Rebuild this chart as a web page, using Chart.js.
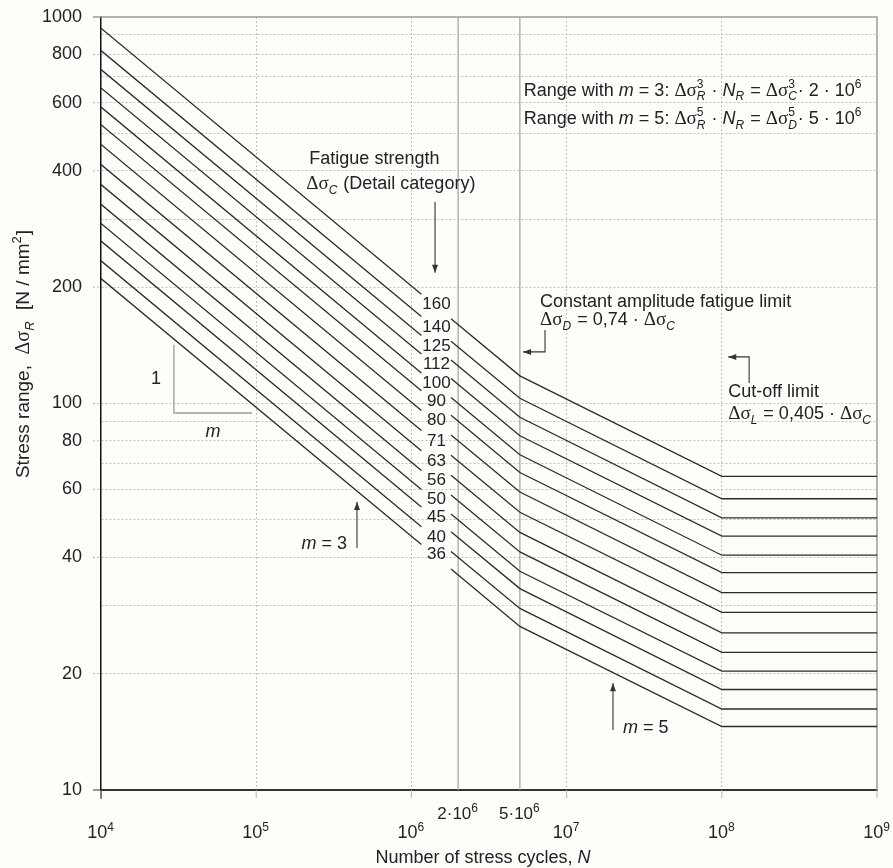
<!DOCTYPE html>
<html>
<head>
<meta charset="utf-8">
<script src="https://cdn.jsdelivr.net/npm/chart.js@4.4.1/dist/chart.umd.min.js"></script>
<style>
html, body { margin: 0; padding: 0; background: #fdfdfa; }
canvas { display: block; }
</style>
</head>
<body>
<canvas id="snChart" width="893" height="868"></canvas>
<script>
// detail categories (fatigue strength at 2e6 cycles)
const categories = [160, 140, 125, 112, 100, 90, 80, 71, 63, 56, 50, 45, 40, 36];

// cycle counts where each curve starts, breaks for its label, bends and ends
const nStart = 1e4, nLeftEnd = 1.16e6, nLabel = 1.45e6, nRightStart = 1.8e6, nD = 5e6, nL = 1e8, nEnd = 1e9;

// stress range of each curve at those cycle counts
const valuesAtStart      = [935.7, 818.7, 731.0, 655.0, 584.8, 526.3, 467.8, 415.2, 368.4, 327.5, 292.4, 263.2, 233.9, 210.5];
const valuesAtLeftEnd    = [191.8, 167.8, 149.9, 134.3, 119.9, 107.9, 95.9, 85.1, 75.5, 67.1, 59.9, 54.0, 48.0, 43.2];
const valuesAtRightStart = [165.7, 145.0, 129.5, 116.0, 103.6, 93.2, 82.9, 73.5, 65.2, 58.0, 51.8, 46.6, 41.4, 37.3];
const valuesAtD          = [117.9, 103.2, 92.1, 82.5, 73.7, 66.3, 59.0, 52.3, 46.4, 41.3, 36.8, 33.2, 29.5, 26.5];
const valuesAtL          = [64.8, 56.7, 50.6, 45.4, 40.5, 36.5, 32.4, 28.8, 25.5, 22.7, 20.3, 18.2, 16.2, 14.6];

// axis ticks
const xTicks = [1e4, 1e5, 1e6, 1e7, 1e8, 1e9];
const xTickExp = [4, 5, 6, 7, 8, 9];
const xExtraTicks = [2e6, 5e6];
const xExtraLabels = ['2', '5'];
const yGridValues = [10, 20, 30, 40, 50, 60, 70, 80, 90, 100, 200, 300, 400, 500, 600, 700, 800, 900, 1000];
const yTickLabels = [10, 20, 40, 60, 80, 100, 200, 400, 600, 800, 1000];

const FONT = '"Liberation Sans", Arial, sans-serif';
const GREEK = '"Liberation Serif", "DejaVu Serif", serif';
const INK = '#222';

const datasets = categories.map((c, i) => ({
    label: String(c),
    data: [
        { x: nStart, y: valuesAtStart[i] },
        { x: nLeftEnd, y: valuesAtLeftEnd[i] },
        { x: nLabel, y: null },
        { x: nRightStart, y: valuesAtRightStart[i] },
        { x: nD, y: valuesAtD[i] },
        { x: nL, y: valuesAtL[i] },
        { x: nEnd, y: valuesAtL[i] }
    ],
    borderColor: '#2b2b2b',
    borderWidth: 1.3,
    pointRadius: 0,
    tension: 0,
    spanGaps: false
}));

// rich text: parts are [text, kind]; kinds n, i, g, sub, sup, ss (stacked [sup, sub])
function fontOf(kind, size) {
    const small = Math.round(size * 0.68);
    if (kind === 'i') return 'italic ' + size + 'px ' + FONT;
    if (kind === 'g') return (size + 1) + 'px ' + GREEK;
    if (kind === 'sub') return 'italic ' + small + 'px ' + FONT;
    if (kind === 'sup') return small + 'px ' + FONT;
    return size + 'px ' + FONT;
}
function partWidth(ctx, p, size) {
    if (p[1] === 'ss') {
        ctx.font = fontOf('sup', size);
        const a = ctx.measureText(p[0][0]).width;
        ctx.font = fontOf('sub', size);
        const b = ctx.measureText(p[0][1]).width;
        return Math.max(a, b) + 1;
    }
    ctx.font = fontOf(p[1], size);
    return ctx.measureText(p[0]).width + (p[1] === 'sub' || p[1] === 'sup' ? 1 : 0);
}
function rich(ctx, parts, x, y, align, size) {
    let total = 0;
    parts.forEach(p => total += partWidth(ctx, p, size));
    let cx = align === 'center' ? x - total / 2 : align === 'right' ? x - total : x;
    const base = y + size * 0.36;
    ctx.textAlign = 'left';
    ctx.textBaseline = 'alphabetic';
    ctx.fillStyle = INK;
    parts.forEach(p => {
        const w = partWidth(ctx, p, size);
        if (p[1] === 'ss') {
            ctx.font = fontOf('sup', size);
            ctx.fillText(p[0][0], cx, base - size * 0.42);
            ctx.font = fontOf('sub', size);
            ctx.fillText(p[0][1], cx, base + size * 0.26);
        } else {
            ctx.font = fontOf(p[1], size);
            let dy = 0;
            if (p[1] === 'sub') dy = size * 0.26;
            if (p[1] === 'sup') dy = -size * 0.42;
            ctx.fillText(p[0], cx, base + dy);
        }
        cx += w;
    });
}
function arrow(ctx, pts) {
    ctx.beginPath();
    ctx.moveTo(pts[0][0], pts[0][1]);
    for (let k = 1; k < pts.length; k++) ctx.lineTo(pts[k][0], pts[k][1]);
    ctx.stroke();
    const [x1, y1] = pts[pts.length - 2], [x2, y2] = pts[pts.length - 1];
    const ang = Math.atan2(y2 - y1, x2 - x1), len = 8, half = 3;
    ctx.beginPath();
    ctx.moveTo(x2, y2);
    ctx.lineTo(x2 - len * Math.cos(ang) + half * Math.sin(ang), y2 - len * Math.sin(ang) - half * Math.cos(ang));
    ctx.lineTo(x2 - len * Math.cos(ang) - half * Math.sin(ang), y2 - len * Math.sin(ang) + half * Math.cos(ang));
    ctx.closePath();
    ctx.fill();
}

const decor = {
    id: 'decor',
    beforeDraw(chart) {
        const { ctx, width, height } = chart;
        ctx.save();
        ctx.fillStyle = '#fdfdfa';
        ctx.fillRect(0, 0, width, height);
        ctx.restore();
    },
    beforeDatasetsDraw(chart) {
        const { ctx, chartArea: a, scales: { x, y } } = chart;
        ctx.save();
        ctx.strokeStyle = '#9a9a9a';
        ctx.lineWidth = 1.5;
        ctx.beginPath();
        ctx.moveTo(a.left - 8, a.top);
        ctx.lineTo(a.right, a.top);
        ctx.lineTo(a.right, a.bottom);
        ctx.stroke();
        ctx.lineWidth = 1.2;
        ctx.strokeStyle = '#a0a0a0';
        xExtraTicks.forEach(n => {
            const p = x.getPixelForValue(n);
            ctx.beginPath(); ctx.moveTo(p, a.top); ctx.lineTo(p, a.bottom); ctx.stroke();
        });
        // slope triangle 1 : m
        ctx.strokeStyle = '#9a9a9a';
        ctx.lineWidth = 1.3;
        ctx.beginPath();
        ctx.moveTo(x.getPixelForValue(2.95e4), y.getPixelForValue(142));
        ctx.lineTo(x.getPixelForValue(2.95e4), y.getPixelForValue(94.5));
        ctx.lineTo(x.getPixelForValue(9.4e4), y.getPixelForValue(94.5));
        ctx.stroke();
        ctx.restore();
    },
    afterDraw(chart) {
        const { ctx, chartArea: a, scales: { x, y } } = chart;
        const X = v => x.getPixelForValue(v), Y = v => y.getPixelForValue(v);
        ctx.save();

        // y tick marks and labels
        ctx.strokeStyle = '#b5b5b5';
        ctx.lineWidth = 1;
        ctx.setLineDash([2, 2]);
        yTickLabels.forEach(v => {
            if (v === 10 || v === 1000) return;
            ctx.beginPath(); ctx.moveTo(a.left - 8, Y(v)); ctx.lineTo(a.left, Y(v)); ctx.stroke();
        });
        ctx.setLineDash([]);
        ctx.strokeStyle = '#333';
        ctx.beginPath(); ctx.moveTo(a.left - 8, Y(10)); ctx.lineTo(a.left, Y(10)); ctx.stroke();
        ctx.fillStyle = INK;
        ctx.font = '18px ' + FONT;
        ctx.textAlign = 'right';
        ctx.textBaseline = 'middle';
        yTickLabels.forEach(v => ctx.fillText(String(v), a.left - 19, Y(v)));

        // x tick marks and labels
        ctx.strokeStyle = '#b5b5b5';
        xTicks.forEach(n => {
            ctx.beginPath(); ctx.moveTo(X(n), a.bottom); ctx.lineTo(X(n), a.bottom + 8); ctx.stroke();
        });
        ctx.strokeStyle = '#222';
        ctx.beginPath(); ctx.moveTo(a.left, a.bottom); ctx.lineTo(a.left, a.bottom + 9); ctx.stroke();
        xTicks.forEach((n, k) => rich(ctx, [['10', 'n'], [String(xTickExp[k]), 'sup']], X(n), a.bottom + 42, 'center', 18));
        xExtraTicks.forEach((n, k) => rich(ctx, [[xExtraLabels[k] + '·10', 'n'], ['6', 'sup']], X(n), a.bottom + 23, 'center', 17));

        // axis titles
        rich(ctx, [['Number of stress cycles, ', 'n'], ['N', 'i']], 483, a.bottom + 67, 'center', 18);
        ctx.save();
        ctx.translate(22, 354);
        ctx.rotate(-Math.PI / 2);
        rich(ctx, [['Stress range,  ', 'n'], ['Δσ', 'g'], ['R', 'sub'], ['  [N / mm', 'n'], ['2', 'sup'], [']', 'n']], 0, 0, 'center', 19);
        ctx.restore();

        // category labels in the gap of each curve
        ctx.font = '17px ' + FONT;
        ctx.textAlign = 'center';
        ctx.textBaseline = 'middle';
        ctx.fillStyle = INK;
        categories.forEach((c, i) => {
            const ly = (Y(valuesAtLeftEnd[i]) + Y(valuesAtRightStart[i])) / 2 - 2;
            ctx.fillText(String(c), X(nLabel), ly);
        });

        // formulas
        rich(ctx, [['Range with ', 'n'], ['m', 'i'], [' = 3: ', 'n'], ['Δσ', 'g'], [['3', 'R'], 'ss'], [' · ', 'n'], ['N', 'i'], ['R', 'sub'], [' = ', 'n'], ['Δσ', 'g'], [['3', 'C'], 'ss'], ['· 2 · 10', 'n'], ['6', 'sup']], X(5.3e6), Y(650), 'left', 18);
        rich(ctx, [['Range with ', 'n'], ['m', 'i'], [' = 5: ', 'n'], ['Δσ', 'g'], [['5', 'R'], 'ss'], [' · ', 'n'], ['N', 'i'], ['R', 'sub'], [' = ', 'n'], ['Δσ', 'g'], [['5', 'D'], 'ss'], ['· 5 · 10', 'n'], ['6', 'sup']], X(5.3e6), Y(550), 'left', 18);

        rich(ctx, [['Fatigue strength', 'n']], X(2.2e5), Y(434), 'left', 18);
        rich(ctx, [['Δσ', 'g'], ['C', 'sub'], [' (Detail category)', 'n']], X(2.1e5), Y(372), 'left', 18);

        rich(ctx, [['Constant amplitude fatigue limit', 'n']], X(6.74e6), Y(185), 'left', 18);
        rich(ctx, [['Δσ', 'g'], ['D', 'sub'], [' = 0,74 · ', 'n'], ['Δσ', 'g'], ['C', 'sub']], X(6.74e6), Y(166), 'left', 18);

        rich(ctx, [['Cut-off limit', 'n']], X(1.1e8), Y(108), 'left', 18);
        rich(ctx, [['Δσ', 'g'], ['L', 'sub'], [' = 0,405 · ', 'n'], ['Δσ', 'g'], ['C', 'sub']], X(1.1e8), Y(94.5), 'left', 18);

        rich(ctx, [['1', 'n']], X(2.26e4), Y(117), 'center', 18);
        rich(ctx, [['m', 'i']], X(5.27e4), Y(84.9), 'center', 18);
        rich(ctx, [['m', 'i'], [' = 3', 'n']], X(3.85e5), Y(43.6), 'right', 18);
        rich(ctx, [['m', 'i'], [' = 5', 'n']], X(2.31e7), Y(14.6), 'left', 18);

        // arrows
        ctx.strokeStyle = '#333';
        ctx.fillStyle = '#333';
        ctx.lineWidth = 1.1;
        arrow(ctx, [[X(1.42e6), Y(332)], [X(1.42e6), Y(218)]]);
        arrow(ctx, [[X(7.26e6), Y(155)], [X(7.26e6), Y(136)], [X(5.24e6), Y(136)]]);
        arrow(ctx, [[X(1.5e8), Y(113)], [X(1.5e8), Y(132)], [X(1.1e8), Y(132)]]);
        arrow(ctx, [[X(4.46e5), Y(42.3)], [X(4.46e5), Y(55.6)]]);
        arrow(ctx, [[X(1.99e7), Y(14.3)], [X(1.99e7), Y(18.9)]]);

        ctx.restore();
    }
};

const gridColor = (edgeA, edgeB) => c => (c.tick && (c.tick.value === edgeA || c.tick.value === edgeB)) ? 'rgba(0,0,0,0)' : '#c2c2c2';

new Chart(document.getElementById('snChart'), {
    type: 'line',
    data: { datasets: datasets },
    options: {
        responsive: false,
        animation: false,
        devicePixelRatio: 1,
        layout: { padding: { top: 17, right: 16, left: 0, bottom: 0 } },
        plugins: { legend: { display: false }, tooltip: { enabled: false } },
        scales: {
            x: {
                type: 'logarithmic',
                min: 1e4,
                max: 1e9,
                afterBuildTicks: s => { s.ticks = xTicks.map(v => ({ value: v })); },
                afterFit: s => { s.height = 78; },
                ticks: { display: false },
                grid: { color: gridColor(1e4, 1e9), lineWidth: 1, drawTicks: false },
                border: { color: '#333', width: 2, dash: [2, 2] }
            },
            y: {
                type: 'logarithmic',
                min: 10,
                max: 1000,
                afterBuildTicks: s => { s.ticks = yGridValues.map(v => ({ value: v })); },
                afterFit: s => { s.width = 101; },
                ticks: { display: false },
                grid: { color: gridColor(10, 1000), lineWidth: 1, drawTicks: false },
                border: { color: '#111', width: 1.5, dash: [2, 2] }
            }
        }
    },
    plugins: [decor]
});
</script>
</body>
</html>
